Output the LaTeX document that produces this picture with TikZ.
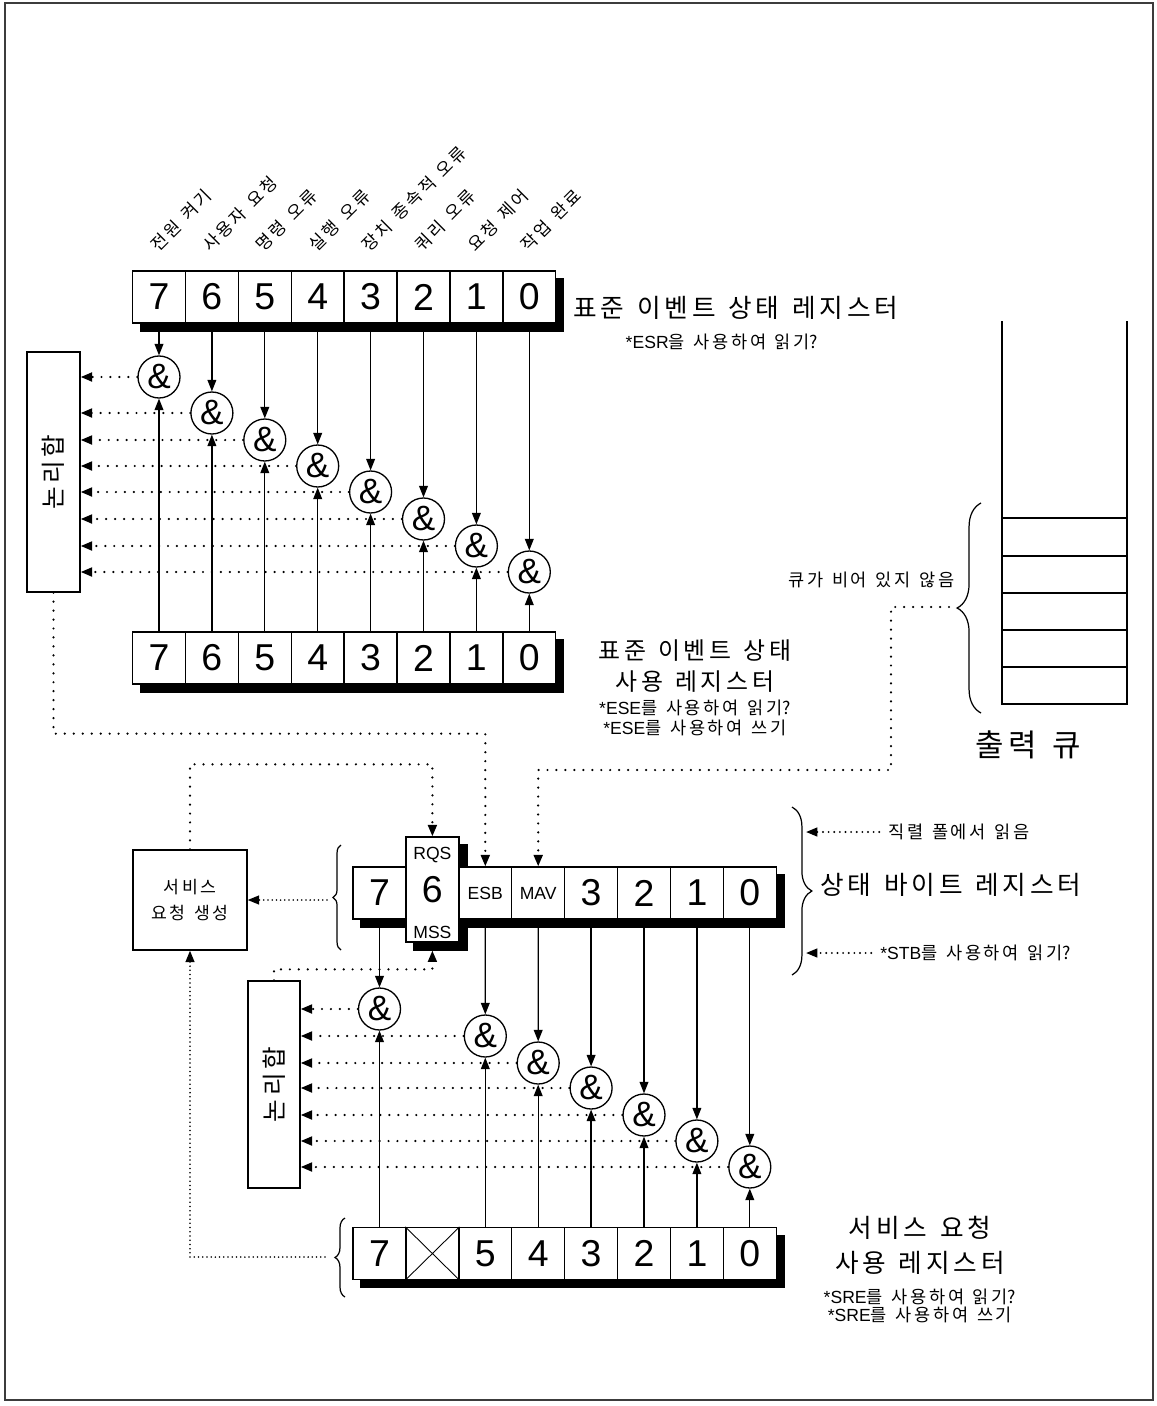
\documentclass[tikz,border=0pt]{standalone}
\usepackage{fontspec}
\setmainfont{Liberation Sans}
\newfontfamily\kr{Noto Sans CJK KR}
\newcommand\krf{\kr\spaceskip=0.5em\relax}
% extra spacing between hangul syllables
\XeTeXinterchartokenstate=1
\newXeTeXintercharclass\hangulclass
\makeatletter
\count@="AC00
\loop\ifnum\count@<"D7A4 \XeTeXcharclass\count@=\hangulclass
  \advance\count@ by 1 \repeat
\makeatother
\XeTeXinterchartoks\hangulclass\hangulclass={\kern0.15em}
\usetikzlibrary{arrows.meta, positioning, calc, backgrounds,
                decorations.pathreplacing}
\definecolor{framegray}{RGB}{60,60,60}
\tikzset{
  cell/.style={
    draw, fill=white, line width=0.75pt, inner sep=0pt,
    minimum width=1.058cm, minimum height=1.04cm,
    font=\fontsize{21.3}{24}\selectfont
  },
  tallcell/.style={cell, minimum height=2.1cm},
  small/.style={font=\fontsize{10}{12}\selectfont},
  andg/.style={circle, draw, fill=white, line width=0.75pt, inner sep=0pt,
    minimum size=0.84cm, font=\fontsize{20}{22}\selectfont},
  plain/.style={draw, fill=white, line width=0.75pt, inner sep=0pt},
  orbox/.style={plain, font=\fontsize{14}{15}\selectfont\krf},
  bitlbl/.style={rotate=45, anchor=south west, inner sep=0pt,
    font=\fontsize{9.8}{11}\selectfont\krf},
  ttl/.style={inner sep=0pt, font=\fontsize{14.6}{19.8}\selectfont\krf},
  ttlb/.style={inner sep=0pt, font=\fontsize{13.6}{18}\selectfont\krf},
  note/.style={inner sep=0pt, font=\fontsize{10}{11.3}\selectfont},
  arr/.style={-{Triangle[length=6.5pt,width=5pt]}, line width=0.7pt},
  dotarr/.style={-{Triangle[length=6.5pt,width=5pt]}, line width=1.4pt,
    line cap=round, dash pattern=on 0pt off 5.1pt},
  dotmid/.style={dotarr, line width=1.2pt, dash pattern=on 0pt off 3.2pt},
  dotdense/.style={dotarr, line width=1pt, dash pattern=on 0pt off 2.4pt},
  brc/.style={decorate, line width=0.7pt},
  frame/.style={draw=framegray, line width=1.2pt}
}
\begin{document}
\begin{tikzpicture}[x=0.02cm, y=-0.02cm]
  \useasboundingbox (0,0) rectangle (1156,1406);
  \draw[frame] (5,3) rectangle (1153,1400);

  % standard event status register + enable register
  \foreach \b/\lab in {7/전원 켜기, 6/사용자 요청, 5/명령 오류, 4/실행 오류,
                       3/장치 종속적 오류, 2/쿼리 오류, 1/요청 제어, 0/작업 완료} {
    \pgfmathsetmacro\x{159+52.9*(7-\b)}
    \node[cell] (esr\b) at (\x,297) {\b};
    \node[cell] (ese\b) at (\x,658) {\b};
    \node[bitlbl] (lb\b) at ([yshift=9.5pt]esr\b.north) {\lab};
  }
  \node[orbox, minimum width=1.06cm, minimum height=4.8cm] (or1) at (53.5,472)
       {\rotatebox{90}{논리합}};
  \foreach \b/\y in {7/377, 6/413, 5/440, 4/466, 3/492, 2/519, 1/546, 0/572} {
    \pgfmathsetmacro\x{159+52.9*(7-\b)}
    \node[andg] (ea\b) at (\x,\y) {\&};
    \draw[arr] (esr\b.south) -- (ea\b.north);
    \draw[arr] (ese\b.north) -- (ea\b.south);
    \draw[dotarr] (ea\b.west) -- (ea\b.west -| or1.east);
  }
  \node[ttl, anchor=west] (esrt) at (573,308) {표준 이벤트 상태 레지스터};
  \node[note] (esrn) at (722,342) {*ESR{\krf 을 사용하여 읽기?}};
  \node[ttlb, align=center] (eset) at (695,666) {표준 이벤트 상태\\사용 레지스터};
  \node[note, align=center] (esen) at (695,718)
       {*ESE{\krf 를 사용하여 읽기?}\\*ESE{\krf 를 사용하여 쓰기}};

  % output queue
  \draw[line width=0.75pt] (1002,321) -- (1002,704) -- (1127,704) -- (1127,321);
  \foreach \y in {518,556,593,630,667}
    \draw[line width=0.75pt] (1002,\y) -- (1127,\y);
  \draw[brc, decoration={brace, amplitude=13.6pt}] (981,713) -- (981,503);
  \coordinate (qtip) at (949,607);
  \coordinate (qbend) at (891,770);
  \node[note, anchor=east] (qne) at (955,580) {\krf 큐가 비어 있지 않음};
  \node[inner sep=0pt, font=\fontsize{17.6}{22}\selectfont\krf] (qout) at (1028,745) {출력 큐};

  % status byte register
  \foreach \b in {7,3,2,1,0} {
    \pgfmathsetmacro\x{379.5+52.9*(7-\b)}
    \node[cell] (sb\b) at (\x,893) {\b};
  }
  \node[cell, small] (sb5) at (485.3,893) {ESB};
  \node[cell, small] (sb4) at (538.2,893) {MAV};
  \node[tallcell] (sb6) at (432.4,889.5) {6};
  \node[small, inner sep=0pt] (rqs) at ([yshift=-10.8pt]sb6.north) {RQS};
  \node[small, inner sep=0pt] (mss) at ([yshift=6pt]sb6.south) {MSS};
  \coordinate (mssin) at ([yshift=-4.5pt]sb6.south);
  \draw[brc, decoration={brace, amplitude=4.5pt}] (341,950) -- (341,845);
  \coordinate (sbtip) at (327,900);
  \draw[brc, decoration={brace, amplitude=11.3pt}] (792,807) -- (792,975);
  \node[ttl, anchor=west] (sbt) at (820,885) {상태 바이트 레지스터};
  \node[note, anchor=west] (serial) at (888,832) {\krf 직렬 폴에서 읽음};
  \node[note, anchor=west] (stb) at (880,953) {*STB{\krf 를 사용하여 읽기?}};
  \coordinate (rd1) at (806,832);
  \coordinate (rd2) at (806,953);
  \draw[dotmid] ([xshift=-5pt]serial.west) -- (rd1);
  \draw[dotmid] ([xshift=-5pt]stb.west) -- (rd2);

  % service request generation
  \node[plain, minimum width=2.28cm, minimum height=2cm, align=center,
        font=\fontsize{9.8}{14.7}\selectfont\krf] (srq) at (190,900)
       {서비스\\요청 생성};
  \draw[dotdense] (sbtip) -- (srq.east);

  % service request enable register
  \foreach \b in {7,5,4,3,2,1,0} {
    \pgfmathsetmacro\x{379.5+52.9*(7-\b)}
    \node[cell] (se\b) at (\x,1253.5) {\b};
  }
  \node[cell] (se6) at (432.4,1253.5) {};
  \draw[line width=0.5pt] (se6.north west) -- (se6.south east)
                          (se6.north east) -- (se6.south west);
  \draw[brc, decoration={brace, amplitude=5.7pt}] (345,1297) -- (345,1218);
  \coordinate (setip) at (325,1257);
  \node[ttl, align=center] (set) at (920,1245) {서비스 요청\\사용 레지스터};
  \node[note, align=center, font=\fontsize{10}{10.2}\selectfont] (sen) at (920,1306)
       {*SRE{\krf 를 사용하여 읽기?}\\*SRE{\krf 를 사용하여 쓰기}};

  \node[orbox, minimum width=1.04cm, minimum height=4.14cm] (or2) at (274,1084.5)
       {\rotatebox{90}{논리합}};
  \foreach \b/\y in {7/1009, 5/1036, 4/1063, 3/1088, 2/1115, 1/1141, 0/1167} {
    \pgfmathsetmacro\x{379.5+52.9*(7-\b)}
    \node[andg] (sa\b) at (\x,\y) {\&};
    \draw[arr] (sb\b.south) -- (sa\b.north);
    \draw[arr] (se\b.north) -- (sa\b.south);
    \draw[dotarr] (sa\b.west) -- (sa\b.west -| or2.east);
  }

  % summary paths
  \draw[dotarr] (or1.south) -- ++(0,141) -| (sb5.north);
  \draw[dotarr] (srq.north) -- ++(0,-85) -| (sb6.north);
  \draw[dotarr] (qtip) -| (qbend) -| (sb4.north);
  \draw[dotarr] (or2.north) -- ++(0,-11) -| (mssin);
  \draw[dotdense] (setip) -| (srq.south);

  % shadows
  \begin{scope}[on background layer]
    \fill ([shift={(8,8)}]esr7.north west) rectangle ([shift={(8,8)}]esr0.south east);
    \fill ([shift={(8,8)}]ese7.north west) rectangle ([shift={(8,8)}]ese0.south east);
    \fill ([shift={(8,8)}]sb7.north west) rectangle ([shift={(8,8)}]sb0.south east);
    \fill ([shift={(8,8)}]sb6.north west) rectangle ([shift={(8,8)}]sb6.south east);
    \fill ([shift={(8,8)}]se7.north west) rectangle ([shift={(8,8)}]se0.south east);
  \end{scope}
\end{tikzpicture}
\end{document}
